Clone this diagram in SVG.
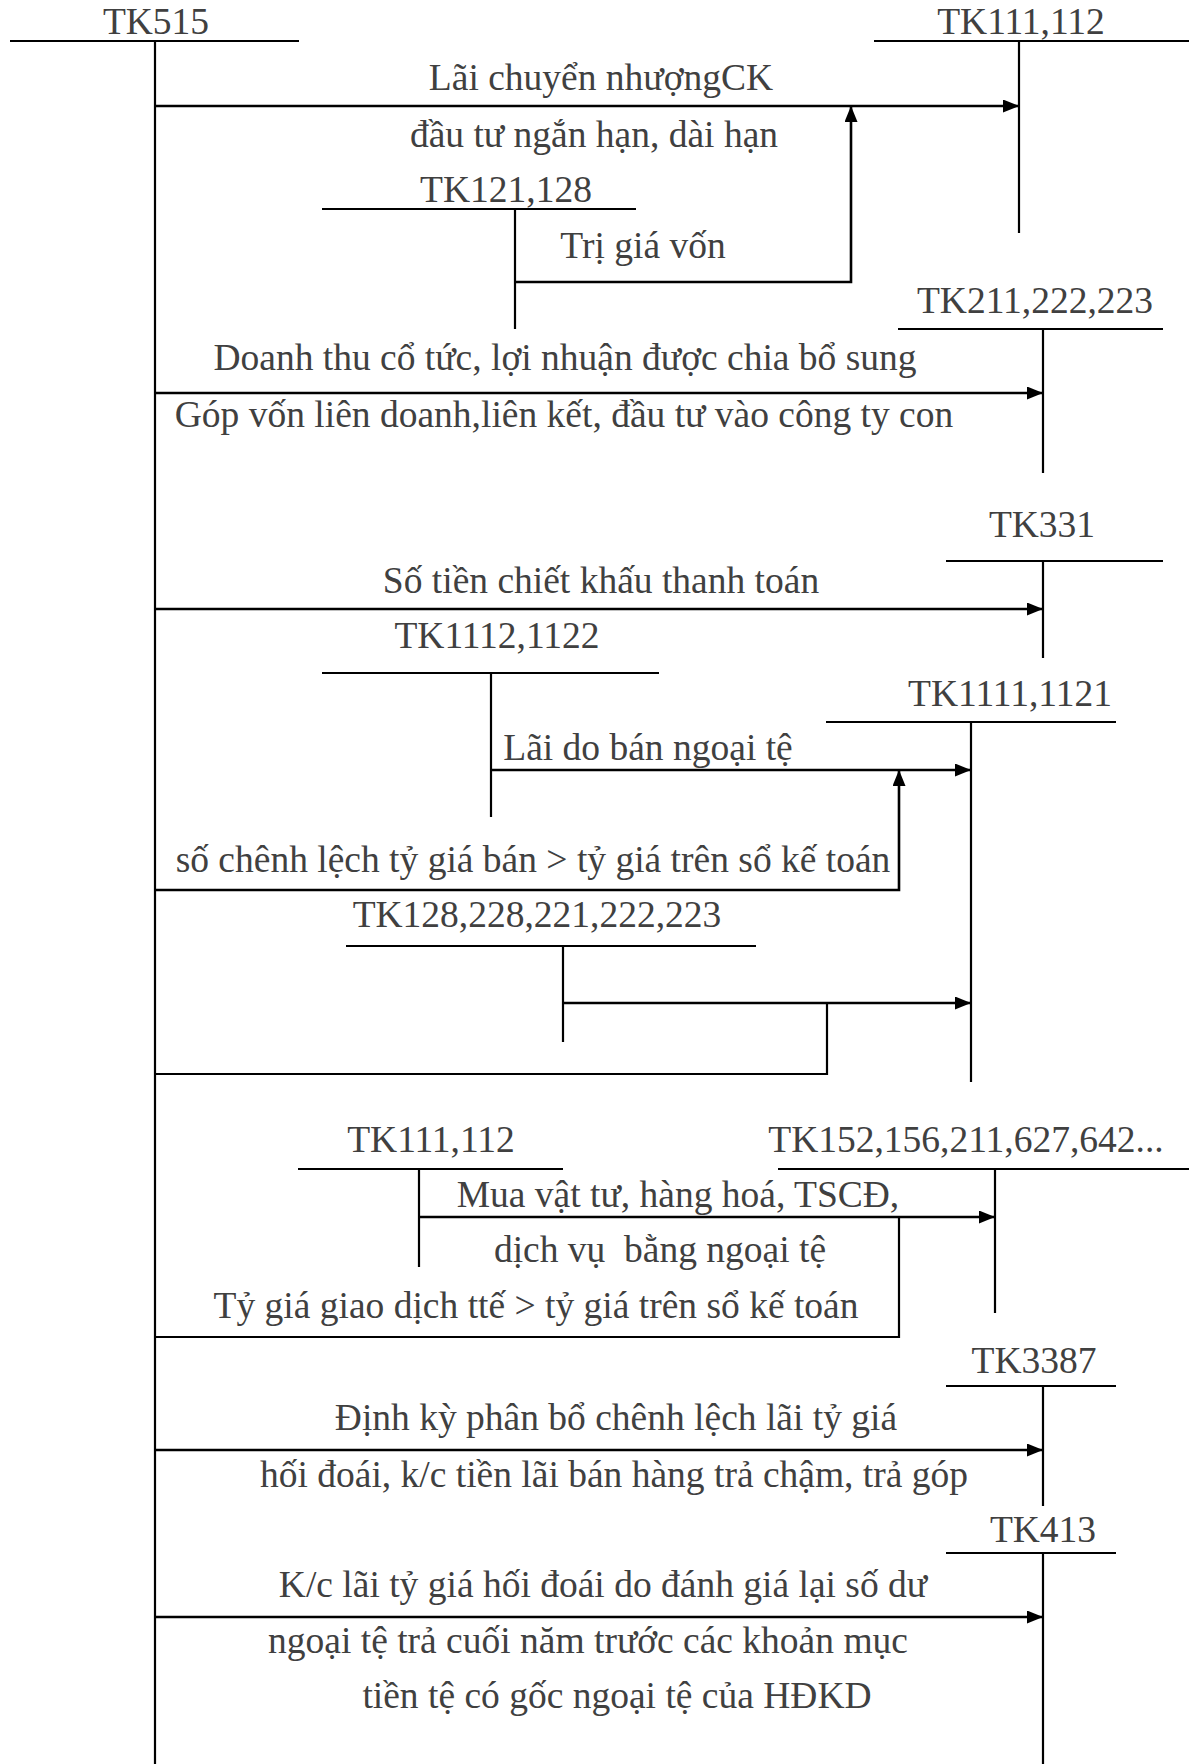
<svg xmlns="http://www.w3.org/2000/svg" width="1189" height="1764" viewBox="0 0 1189 1764">
<style>
text{font-family:"Liberation Serif","Times New Roman",serif;font-size:37.5px;fill:#404040;text-anchor:middle}
.l{stroke:#000;stroke-width:2.2;fill:none}
.a{stroke:#000;stroke-width:2.6;fill:none;marker-end:url(#ah)}
</style>
<defs>
<marker id="ah" viewBox="0 0 16 13" refX="16" refY="6.5" markerWidth="16" markerHeight="13" markerUnits="userSpaceOnUse" orient="auto">
<path d="M0,0 L16,6.5 L0,13 Z" fill="#000"/>
</marker>
</defs>
<rect width="1189" height="1764" fill="#fff"/>

<g id="tk515"><text x="156" y="34">TK515</text><path class="l" d="M10,41H299M155,41V1764"/></g>
<g id="tk111-112-top"><text x="1021" y="34">TK111,112</text><path class="l" d="M874,41H1189M1019,41V233"/></g>
<g id="tk121-128"><text x="506" y="202">TK121,128</text><path class="l" d="M322,209H636M515,209V329"/></g>
<g id="tk211-222-223"><text x="1035" y="313">TK211,222,223</text><path class="l" d="M898,329H1163M1043,329V473"/></g>
<g id="tk331"><text x="1042" y="537">TK331</text><path class="l" d="M946,561H1163M1043,561V658"/></g>
<g id="tk1112-1122"><text x="497" y="648">TK1112,1122</text><path class="l" d="M322,673H659M491,673V817"/></g>
<g id="tk1111-1121"><text x="1010" y="706">TK1111,1121</text><path class="l" d="M826,722H1116M971,722V1082"/></g>
<g id="tk128-228"><text x="537" y="927">TK128,228,221,222,223</text><path class="l" d="M346,946H756M563,946V1042"/></g>
<g id="tk111-112-low"><text x="431" y="1152">TK111,112</text><path class="l" d="M298,1169H563M419,1169V1267"/></g>
<g id="tk152"><text x="966" y="1152">TK152,156,211,627,642...</text><path class="l" d="M778,1169H1189M995,1169V1313"/></g>
<g id="tk3387"><text x="1034" y="1373">TK3387</text><path class="l" d="M946,1386H1116M1043,1386V1506"/></g>
<g id="tk413"><text x="1043" y="1542">TK413</text><path class="l" d="M946,1553H1116M1043,1553V1764"/></g>

<g id="connectors">
<path class="a" d="M155,106H1019"/>
<path class="a" d="M515,282H851V106"/>
<path class="a" d="M155,393H1043"/>
<path class="a" d="M155,609H1043"/>
<path class="a" d="M491,770H971"/>
<path class="a" d="M155,890H899V770"/>
<path class="a" d="M563,1003H971"/>
<path class="l" d="M155,1074H827V1003"/>
<path class="a" d="M419,1217H995"/>
<path class="l" d="M155,1337H899V1217"/>
<path class="a" d="M155,1450H1043"/>
<path class="a" d="M155,1617H1043"/>
</g>

<g id="labels">
<text x="601" y="90">Lãi chuyển nhượngCK</text>
<text x="594" y="147">đầu tư ngắn hạn, dài hạn</text>
<text x="643" y="258">Trị giá vốn</text>
<text x="565" y="370">Doanh thu cổ tức, lợi nhuận được chia bổ sung</text>
<text x="564" y="427">Góp vốn liên doanh,liên kết, đầu tư vào công ty con</text>
<text x="601" y="593">Số tiền chiết khấu thanh toán</text>
<text x="648" y="760">Lãi do bán ngoại tệ</text>
<text x="533" y="872">số chênh lệch tỷ giá bán &gt; tỷ giá trên sổ kế toán</text>
<text x="678" y="1207">Mua vật tư, hàng hoá, TSCĐ,</text>
<text x="660" y="1262" xml:space="preserve">dịch vụ  bằng ngoại tệ</text>
<text x="536" y="1318">Tỷ giá giao dịch ttế &gt; tỷ giá trên sổ kế toán</text>
<text x="616" y="1430">Định kỳ phân bổ chênh lệch lãi tỷ giá</text>
<text x="614" y="1487">hối đoái, k/c tiền lãi bán hàng trả chậm, trả góp</text>
<text x="603" y="1597">K/c lãi tỷ giá hối đoái do đánh giá lại số dư</text>
<text x="588" y="1653">ngoại tệ trả cuối năm trước các khoản mục</text>
<text x="617" y="1708">tiền tệ có gốc ngoại tệ của HĐKD</text>
</g>
</svg>
